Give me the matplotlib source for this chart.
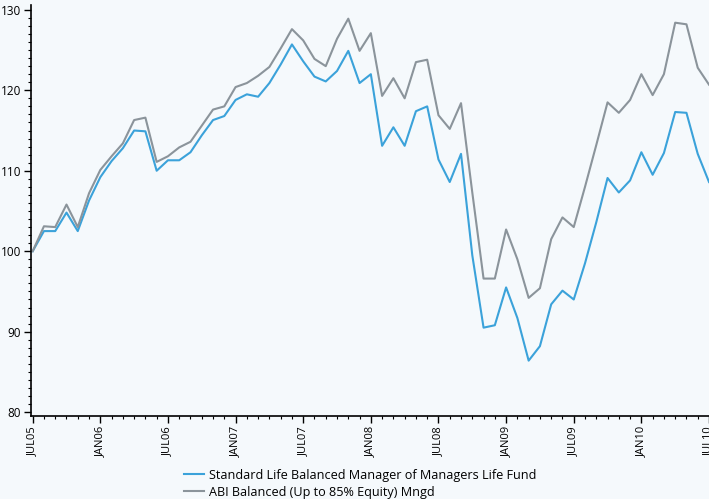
import matplotlib.pyplot as plt
from matplotlib.ticker import MultipleLocator
import numpy as np

# monthly index values, JUL05 .. JUL10 (rebased to 100)
standard_life = [100.0, 102.5, 102.5, 104.8, 102.5, 106.3, 109.2, 111.2, 112.8, 115.0,
                 114.9, 110.0, 111.3, 111.3, 112.3, 114.4, 116.3, 116.8, 118.8, 119.5,
                 119.2, 120.9, 123.2, 125.7, 123.6, 121.7, 121.1, 122.4, 124.9, 120.9,
                 122.0, 113.1, 115.4, 113.1, 117.4, 118.0, 111.4, 108.6, 112.1, 99.5,
                 90.5, 90.8, 95.5, 91.7, 86.4, 88.2, 93.4, 95.1, 94.0, 98.5,
                 103.6, 109.1, 107.3, 108.8, 112.3, 109.5, 112.2, 117.3, 117.2, 112.1,
                 108.6]
abi_balanced = [100.0, 103.1, 103.0, 105.8, 103.0, 107.2, 110.1, 111.8, 113.4, 116.3,
                116.6, 111.1, 111.8, 112.9, 113.6, 115.6, 117.6, 118.0, 120.4, 120.9,
                121.8, 122.9, 125.2, 127.6, 126.2, 123.9, 123.0, 126.4, 128.9, 124.9,
                127.1, 119.3, 121.5, 119.0, 123.5, 123.8, 116.9, 115.2, 118.4, 107.3,
                96.6, 96.6, 102.7, 99.0, 94.2, 95.4, 101.5, 104.2, 103.0, 108.0,
                113.2, 118.5, 117.2, 118.8, 122.0, 119.4, 122.0, 128.4, 128.2, 122.8,
                120.7]
tick_labels = ['JUL05', 'JAN06', 'JUL06', 'JAN07', 'JUL07', 'JAN08',
               'JUL08', 'JAN09', 'JUL09', 'JAN10', 'JUL10']
series_names = ['Standard Life Balanced Manager of Managers Life Fund',
                'ABI Balanced (Up to 85% Equity) Mngd']

bg = '#f5f9fc'
blue = '#3ba2da'
grey = '#8b949b'

months = np.arange(len(standard_life))

fig = plt.figure(figsize=(7.09, 4.99), dpi=100, facecolor=bg)
ax = fig.add_axes([0.0437, 0.166, 0.9563, 0.824], facecolor=bg)

l1, = ax.plot(months, standard_life, color=blue, lw=1.5)
l2, = ax.plot(months, abi_balanced, color=grey, lw=1.5)

ax.set_xlim(-0.15, 59.9)
ax.set_ylim(79.5, 130.6)

ax.xaxis.set_major_locator(MultipleLocator(6))
ax.xaxis.set_minor_locator(MultipleLocator(1))
ax.set_xticks(np.arange(0, 61, 6))
ax.set_xticklabels(tick_labels, rotation=90, fontsize=8, fontfamily='Open Sans')
ax.yaxis.set_major_locator(MultipleLocator(10))
ax.yaxis.set_minor_locator(MultipleLocator(1))
for lbl in ax.get_yticklabels():
    lbl.set_fontsize(8.5)
    lbl.set_fontfamily('Open Sans')

ax.tick_params(which='major', length=5, width=1, color='black', pad=2)
ax.tick_params(which='minor', length=2.5, width=0.8, color='black')

for s in ['top', 'right']:
    ax.spines[s].set_visible(False)
for s in ['left', 'bottom']:
    ax.spines[s].set_linewidth(1.2)

fig.legend([l1, l2], series_names, loc='lower center', bbox_to_anchor=(0.508, -0.022),
           ncol=1, frameon=False, handlelength=1.6, handletextpad=0.4,
           labelspacing=0.3, prop={'family': 'Open Sans', 'size': 9.1})

fig.savefig('out.png', dpi=100, facecolor=bg)
